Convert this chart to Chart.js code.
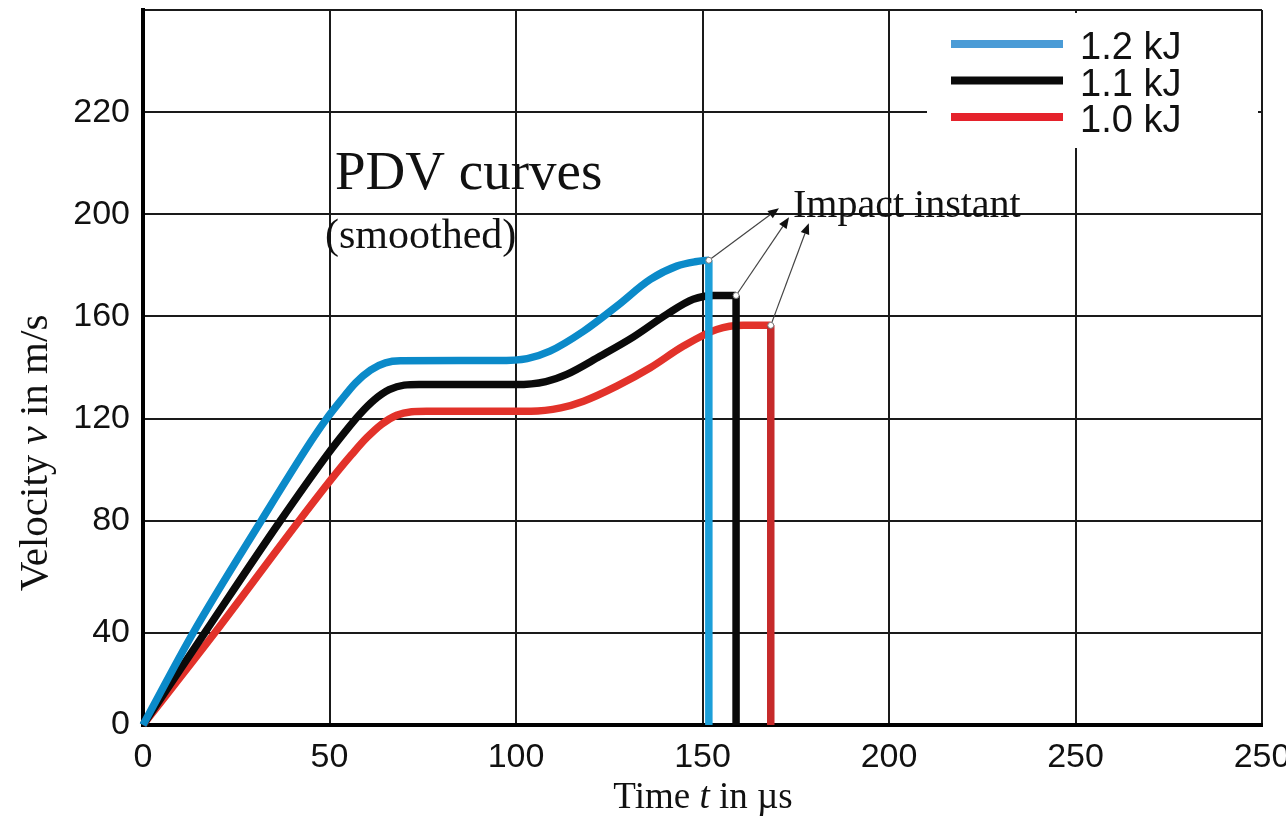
<!DOCTYPE html>
<html>
<head>
<meta charset="utf-8">
<script src="https://cdn.jsdelivr.net/npm/chart.js@4/dist/chart.umd.min.js"></script>
<style>
html, body { margin: 0; padding: 0; background: #fff; }
</style>
</head>
<body>
<canvas id="chart" width="1286" height="817"></canvas>
<script>
// ------------------------------
// Data
// ------------------------------

const seriesLabels = ["1.2 kJ", "1.1 kJ", "1.0 kJ"];

const time12 = [0, 13.4, 31.7, 45, 49, 53, 57, 61, 65, 69, 85, 95, 103, 109.1, 118.1, 127, 136, 143.1, 148, 151.7, 151.7];
const vel12  = [0, 36, 80, 111, 119.5, 127, 134, 139, 141.8, 142.6, 142.7, 142.7, 143.5, 146.4, 154.2, 164, 174.5, 179.7, 181.4, 182, 0];

const time11 = [0, 16.5, 36.6, 50, 54, 58, 62, 66, 70, 74, 90, 100, 108, 113.6, 122.5, 131.5, 140.4, 147.5, 152.9, 159, 159];
const vel11  = [0, 36, 79.5, 107, 114.5, 121.5, 127.3, 131.3, 133.1, 133.3, 133.3, 133.3, 134.5, 137.3, 144.4, 152, 160.8, 166.7, 168.2, 168.2, 0];

const time10 = [0, 19.2, 41.6, 52, 56, 60, 64, 68, 72, 76, 90, 104, 112, 118.1, 127, 136, 144.9, 153.8, 161, 168.3, 168.3];
const vel10  = [0, 36, 79.5, 99, 106, 112.5, 117.8, 121.3, 122.7, 122.9, 122.9, 122.9, 124.2, 126.8, 132.7, 139.9, 148.4, 154.9, 156.5, 156.5, 0];

const xTickValues = [0, 50, 100, 150, 200, 250, 300];
const xTickLabels = ["0", "50", "100", "150", "200", "250", "250"];

const yTickValues = [0, 36, 80, 120, 160, 200, 240, 280];
const yTickLabels = ["0", "40", "80", "120", "160", "200", "220", ""];

// where the "Impact instant" arrows point (t, v)
const arrowTipT = [170.5, 173.2, 178.5];
const arrowTipV = [202.4, 198.8, 196.5];


function toPoints(ts, vs) {
    return ts.map((t, i) => ({ x: t, y: vs[i] }));
}

function makeSet(label, ts, vs, color, dropColor, legendColor) {
    return {
        label: label,
        data: toPoints(ts, vs),
        borderColor: color,
        legendColor: legendColor,
        borderWidth: 7.5,
        pointRadius: 0,
        fill: false,
        clip: false,
        cubicInterpolationMode: "monotone",
        segment: {
            borderColor: c => c.p0.parsed.x === c.p1.parsed.x ? dropColor : undefined
        }
    };
}


// ------------------------------
// Text, legend and arrows
// ------------------------------

const serif = "'Liberation Serif', 'Times New Roman', serif";
const sans = "'Liberation Sans', Arial, sans-serif";

function partsWidth(ctx, parts, size) {
    let w = 0;
    parts.forEach(p => {
        ctx.font = (p[1] ? "italic " : "") + size + "px " + serif;
        w += ctx.measureText(p[0]).width;
    });
    return w;
}

function drawParts(ctx, parts, size, x, y) {
    let cx = x;
    parts.forEach(p => {
        ctx.font = (p[1] ? "italic " : "") + size + "px " + serif;
        ctx.fillText(p[0], cx, y);
        cx += ctx.measureText(p[0]).width;
    });
}

function arrow(ctx, x0, y0, x1, y1) {
    const a = Math.atan2(y1 - y0, x1 - x0);
    const head = 11;
    ctx.strokeStyle = "#444";
    ctx.lineWidth = 1.2;
    ctx.beginPath();
    ctx.moveTo(x0, y0);
    ctx.lineTo(x1 - head * Math.cos(a), y1 - head * Math.sin(a));
    ctx.stroke();
    ctx.fillStyle = "#111";
    ctx.beginPath();
    ctx.moveTo(x1, y1);
    ctx.lineTo(x1 - head * Math.cos(a) + 4.5 * Math.sin(a), y1 - head * Math.sin(a) - 4.5 * Math.cos(a));
    ctx.lineTo(x1 - head * Math.cos(a) - 4.5 * Math.sin(a), y1 - head * Math.sin(a) + 4.5 * Math.cos(a));
    ctx.closePath();
    ctx.fill();
}

const extras = {
    id: "extras",
    afterDraw(chart) {
        const ctx = chart.ctx;
        const xs = chart.scales.x;
        const ys = chart.scales.y;
        ctx.save();

        // arrows from the impact points
        chart.data.datasets.forEach((ds, i) => {
            const pts = chart.getDatasetMeta(i).data;
            const p = pts[pts.length - 2];
            arrow(ctx, p.x, p.y, xs.getPixelForValue(arrowTipT[i]), ys.getPixelForValue(arrowTipV[i]));
        });
        chart.data.datasets.forEach((ds, i) => {
            const pts = chart.getDatasetMeta(i).data;
            const p = pts[pts.length - 2];
            ctx.fillStyle = "#fff";
            ctx.strokeStyle = "#777";
            ctx.lineWidth = 1;
            ctx.beginPath();
            ctx.arc(p.x, p.y, 3, 0, Math.PI * 2);
            ctx.fill();
            ctx.stroke();
        });

        // legend
        ctx.fillStyle = "#fff";
        ctx.fillRect(927, 13, 331, 135);
        chart.data.datasets.forEach((ds, i) => {
            const yy = 44 + i * 36.5;
            ctx.strokeStyle = ds.legendColor;
            ctx.lineWidth = 8;
            ctx.beginPath();
            ctx.moveTo(951, yy);
            ctx.lineTo(1063, yy);
            ctx.stroke();
            ctx.fillStyle = "#111";
            ctx.font = "38px " + sans;
            ctx.textAlign = "left";
            ctx.textBaseline = "middle";
            ctx.fillText(ds.label, 1080, yy + 5);
        });

        // annotations
        ctx.fillStyle = "#111";
        ctx.textBaseline = "alphabetic";
        ctx.textAlign = "left";
        ctx.font = "55px " + serif;
        ctx.fillText("PDV curves", 335, 189);
        ctx.font = "42px " + serif;
        ctx.fillText("(smoothed)", 325, 248);
        ctx.font = "40px " + serif;
        ctx.fillText("Impact instant", 793, 217);

        // axis titles
        const xt = [["Time ", false], ["t", true], [" in \u00b5s", false]];
        const wx = partsWidth(ctx, xt, 37);
        drawParts(ctx, xt, 37, 703 - wx / 2, 808);

        const yt = [["Velocity ", false], ["v", true], [" in m/s", false]];
        const wy = partsWidth(ctx, yt, 41);
        ctx.translate(47, 453);
        ctx.rotate(-Math.PI / 2);
        drawParts(ctx, yt, 41, -wy / 2, 0);

        ctx.restore();
    }
};


// ------------------------------
// Chart
// ------------------------------

const chart = new Chart(document.getElementById("chart"), {

type: "line",

data: {
    datasets: [
        makeSet(seriesLabels[0], time12, vel12, "#0b8ac9", "#1c9fd9", "#4a9bd6"),
        makeSet(seriesLabels[1], time11, vel11, "#0a0a0a", "#0a0a0a", "#0a0a0a"),
        makeSet(seriesLabels[2], time10, vel10, "#e2322a", "#c62a2a", "#e5222b")
    ]
},

options: {
    responsive: false,
    animation: false,
    layout: { padding: { top: 10, right: 24, left: 0, bottom: 0 } },
    plugins: {
        legend: { display: false },
        tooltip: { enabled: false }
    },
    scales: {
        x: {
            type: "linear",
            min: 0,
            max: 300,
            afterBuildTicks: s => { s.ticks = xTickValues.map(v => ({ value: v })); },
            afterFit: s => { s.height = 92; s.paddingLeft = 0; s.paddingRight = 0; },
            ticks: {
                callback: (v, i) => xTickLabels[i],
                font: { size: 34, family: sans },
                color: "#111",
                padding: 12,
                maxRotation: 0,
                autoSkip: false
            },
            grid: { color: "#1a1a1a", lineWidth: 2, drawTicks: false },
            border: { color: "#000", width: 4 }
        },
        y: {
            min: 0,
            max: 280,
            afterBuildTicks: s => { s.ticks = yTickValues.map(v => ({ value: v })); },
            afterFit: s => { s.width = 143; s.paddingTop = 0; s.paddingBottom = 0; },
            ticks: {
                callback: (v, i) => yTickLabels[i],
                font: { size: 34, family: sans },
                color: "#111",
                padding: 13,
                autoSkip: false
            },
            grid: { color: "#1a1a1a", lineWidth: 2, drawTicks: false },
            border: { color: "#000", width: 4 }
        }
    }
},

plugins: [extras]

});
</script>
</body>
</html>
